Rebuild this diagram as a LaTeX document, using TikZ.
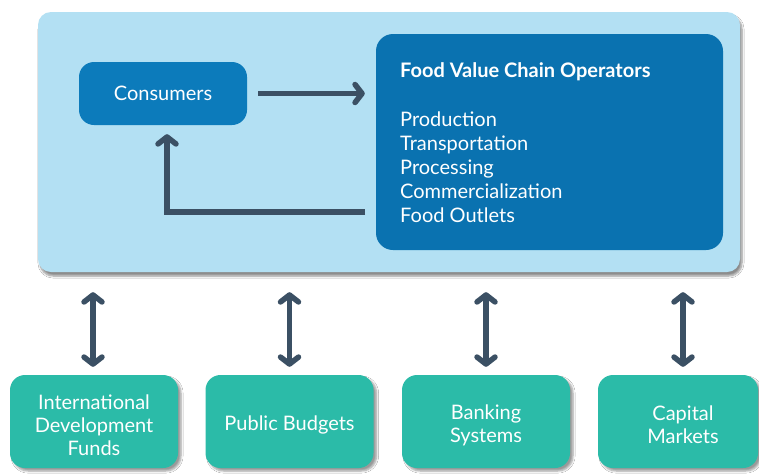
\documentclass[tikz,border=0pt]{standalone}
\usepackage{fontspec}
\setmainfont{Lato}
\usetikzlibrary{arrows.meta,shadows.blur}
\definecolor{lightbg}{HTML}{B3E0F3}
\definecolor{consblue}{HTML}{0C7BBB}
\definecolor{opblue}{HTML}{0A72B0}
\definecolor{arrowc}{HTML}{3B5064}
\definecolor{teal}{HTML}{2BBBA8}
\tikzset{
  panel/.style={rectangle, rounded corners=13pt, fill=lightbg, draw=none,
    blur shadow={shadow xshift=2pt, shadow yshift=-4pt, shadow blur steps=6, shadow opacity=45}},
  bluebox/.style={rectangle, rounded corners=15pt, draw=none, text=white,
    font=\fontsize{20}{24}\selectfont},
  fundbox/.style={rectangle, rounded corners=15pt, fill=teal, draw=none,
    minimum width=168pt, minimum height=93pt,
    blur shadow={shadow xshift=3pt, shadow yshift=-3pt, shadow blur steps=5, shadow opacity=40}},
  fundtext/.style={text=white, align=center, inner sep=0pt,
    font=\fontsize{20}{23}\selectfont},
  flow/.style={draw=arrowc, line width=5.5pt,
    -{Straight Barb[length=7pt, width=18pt, line width=5.5pt, round]}},
  dflow/.style={draw=arrowc, line width=5.5pt,
    {Straight Barb[length=7pt, width=18pt, line width=5.5pt, round]}-{Straight Barb[length=7pt, width=18pt, line width=5.5pt, round]}}
}
\begin{document}
\begin{tikzpicture}[x=1pt, y=-1pt]
\useasboundingbox (0,0) rectangle (759,475);
\clip (0,0) rectangle (759,475);
\fill[white] (0,0) rectangle (759,475);

\node[panel, minimum width=702pt, minimum height=260pt] (big) at (389,142) {};
\node[bluebox, fill=consblue, minimum width=168pt, minimum height=63pt] (cons) at (163,93.5) {Consumers};
\node[bluebox, fill=opblue, rounded corners=17pt, minimum width=347pt, minimum height=216pt] (fvco) at (549.5,142) {};
\node[anchor=north west, text=white, align=left, inner sep=0pt,
      font=\fontsize{20}{24}\selectfont] (fvcotxt) at (400,62)
  {\textbf{Food Value Chain Operators}\\[25pt]
   Production\\ Transportation\\ Processing\\ Commercialization\\ Food Outlets};

\draw[flow] ([xshift=11pt]cons.east) -- ([xshift=-11pt]fvco.west |- cons.east);
\coordinate (ret) at (365,212);
\draw[flow, line join=miter] (ret) -| ([xshift=4pt, yshift=-9pt]cons.south);

\node[fundbox] (f1) at (94,421.5) {};
\node[fundbox] (f2) at (289.5,421.5) {};
\node[fundbox] (f3) at (486,421.5) {};
\node[fundbox, minimum width=160pt] (f4) at (678,421.5) {};
\node[fundtext] (t1) at (94,425) {International\\Development\\Funds};
\node[fundtext] (t2) at (289.5,425) {Public Budgets};
\node[fundtext] (t3) at (486,425) {Banking\\Systems};
\node[fundtext] (t4) at (683,425) {Capital\\Markets};

\foreach \f/\dx in {f1/-1, f2/0, f3/0, f4/5} {
  \draw[dflow] ([xshift=\dx pt, yshift=-20pt]big.south -| \f.north) -- ([xshift=\dx pt, yshift=8pt]\f.north);
}
\end{tikzpicture}
\end{document}
